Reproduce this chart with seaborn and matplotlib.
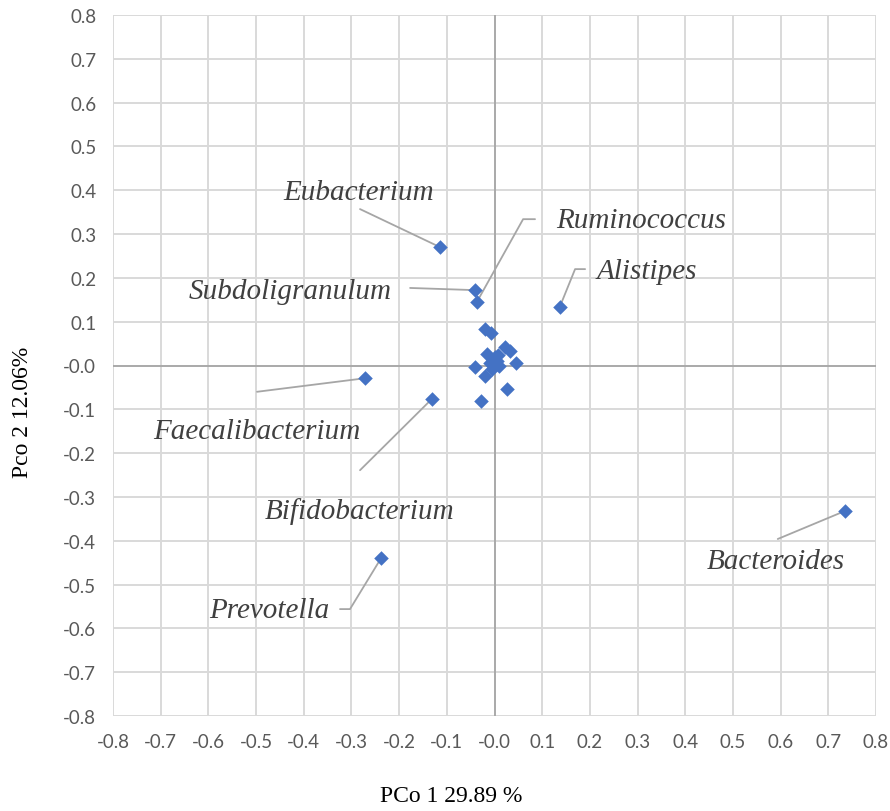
import numpy as np
import pandas as pd
import matplotlib
matplotlib.use("Agg")
import matplotlib.pyplot as plt
import seaborn as sns

# ---- data ----
pco1 = [-0.114, -0.041, -0.037, 0.137, -0.271, -0.131, -0.238, 0.735,
        -0.020, -0.007, 0.022, 0.032, -0.016, 0.000, 0.005, -0.040,
        0.045, -0.020, -0.005, 0.026, -0.028, 0.010, -0.010, 0.008]
pco2 = [0.270, 0.172, 0.145, 0.134, -0.029, -0.076, -0.440, -0.332,
        0.083, 0.075, 0.042, 0.033, 0.026, 0.020, 0.010, -0.003,
        0.006, -0.024, -0.008, -0.053, -0.081, 0.000, 0.005, 0.025]

labels = ["Eubacterium", "Ruminococcus", "Subdoligranulum", "Alistipes",
          "Faecalibacterium", "Bifidobacterium", "Prevotella", "Bacteroides"]
label_x = [-0.284, 0.307, -0.429, 0.320, -0.498, -0.284, -0.473, 0.590]
label_y = [0.396, 0.332, 0.170, 0.216, -0.150, -0.330, -0.558, -0.446]
# leader line paths (label side -> point index)
leader_x = [[-0.282], [0.085, 0.060], [-0.177], [0.190, 0.169], [-0.498], [-0.282], [-0.324, -0.303], [0.594]]
leader_y = [[0.357], [0.334, 0.334], [0.177], [0.220, 0.220], [-0.060], [-0.239], [-0.556, -0.556], [-0.396]]
leader_point = [0, 2, 1, 3, 4, 5, 6, 7]

ticks = np.round(np.arange(-0.8, 0.81, 0.1), 1)
tick_labels = [f"{t:.1f}" for t in ticks]

df = pd.DataFrame({"x": pco1, "y": pco2})

sns.set_theme(style="white")
plt.rcParams['font.family'] = ['Lato', 'DejaVu Sans']

fig = plt.figure(figsize=(8.9, 8.12), dpi=100)
ax = fig.add_axes([113/890, 1-717/812, (876-113)/890, (717-16)/812])

ax.set_xlim(-0.8, 0.8)
ax.set_ylim(-0.8, 0.8)
ax.set_xticks(ticks)
ax.set_yticks(ticks)
ax.set_xticklabels(tick_labels)
ax.set_yticklabels(tick_labels)
ax.grid(True, color="#d9d9d9", linewidth=1.4)
ax.set_axisbelow(True)
for s in ax.spines.values():
    s.set_visible(False)
ax.axhline(0, color="#a6a6a6", linewidth=1.3, zorder=1)
ax.axvline(0, color="#a6a6a6", linewidth=1.3, zorder=1)
ax.tick_params(axis="both", length=0, labelsize=13.5, colors="#595959", pad=12)

# leader lines
for i, (lx, ly) in enumerate(zip(leader_x, leader_y)):
    p = leader_point[i]
    ax.plot(lx + [pco1[p]], ly + [pco2[p]], color="#a6a6a6", linewidth=1.3, zorder=2)

sns.scatterplot(data=df, x="x", y="y", marker="D", s=55, color="#4472C4",
                edgecolor="#4472C4", linewidth=0, ax=ax, zorder=3)

for t, x, y in zip(labels, label_x, label_y):
    ax.text(x, y, t, ha="center", va="center", fontsize=21, style="italic",
            family="Liberation Serif", color="#404040")

ax.set_xlabel("")
ax.set_ylabel("")
fig.text(451/890, 1-797/812, "PCo 1 29.89 %", ha="center", va="center",
         fontsize=17, family="Liberation Serif", color="black")
fig.text(23/890, 1-412/812, "Pco 2 12.06%", ha="center", va="center",
         rotation=90, fontsize=17, family="Liberation Serif", color="black")

fig.savefig("out.png", dpi=100)
